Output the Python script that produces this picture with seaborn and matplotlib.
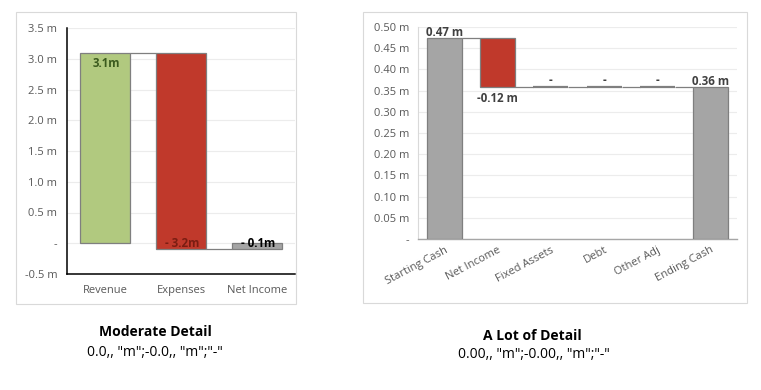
import matplotlib
matplotlib.use("Agg")
import matplotlib.pyplot as plt
import seaborn as sns
from matplotlib.patches import Rectangle

sns.set_theme(style="white")
plt.rcParams['font.family'] = ['Open Sans', 'DejaVu Sans']

# ---------------- data: Moderate Detail ----------------
mod_categories = ["Revenue", "Expenses", "Net Income"]
mod_values = [3.1, -3.2, -0.1]
mod_bottoms = [0.0, 3.1, 0.0]
mod_labels = ["3.1m", "- 3.2m", "- 0.1m"]
mod_colors = ["#b1c97f", "#c0392b", "#a5a5a5"]
mod_label_colors = ["#3b5a1e", "#7a1d12", "#000000"]
mod_yticks = [-0.5, 0.0, 0.5, 1.0, 1.5, 2.0, 2.5, 3.0, 3.5]
mod_yticklabels = ["-0.5 m", "-", "0.5 m", "1.0 m", "1.5 m", "2.0 m", "2.5 m", "3.0 m", "3.5 m"]

# ---------------- data: A Lot of Detail ----------------
lot_categories = ["Starting Cash", "Net Income", "Fixed Assets", "Debt", "Other Adj", "Ending Cash"]
lot_values = [0.474, -0.116, 0.0, 0.0, 0.0, 0.358]
lot_bottoms = [0.0, 0.474, 0.358, 0.358, 0.358, 0.0]
lot_labels = ["0.47 m", "-0.12 m", "-", "-", "-", "0.36 m"]
lot_colors = ["#a5a5a5", "#c0392b", "#a5a5a5", "#a5a5a5", "#a5a5a5", "#a5a5a5"]
lot_yticks = [0.0, 0.05, 0.10, 0.15, 0.20, 0.25, 0.30, 0.35, 0.40, 0.45, 0.50]
lot_yticklabels = ["-", "0.05 m", "0.10 m", "0.15 m", "0.20 m", "0.25 m", "0.30 m",
                   "0.35 m", "0.40 m", "0.45 m", "0.50 m"]

W, H = 761, 390
fig = plt.figure(figsize=(W / 100, H / 100), dpi=100)

EDGE = "#7f7f7f"
TICK = "#595959"
GRID = "#ececec"
BAR_W = 0.66


def fig_rect(x0, y0, x1, y1):
    return [x0 / W, 1 - y1 / H, (x1 - x0) / W, (y1 - y0) / H]


def waterfall(ax, cats, vals, bottoms, colors):
    sns.barplot(x=cats, y=vals, bottom=bottoms, ax=ax, width=BAR_W, color=colors[0],
                saturation=1, edgecolor=EDGE, linewidth=0.9, errorbar=None, zorder=3)
    for p, c in zip(ax.patches, colors):
        p.set_facecolor(c)
    # connectors
    for i in range(len(cats) - 1):
        level = bottoms[i] + vals[i]
        ax.hlines(level, i + BAR_W / 2, i + 1 - BAR_W / 2, color=EDGE, lw=0.9, zorder=2)


# ---------------- left chart ----------------
ax1 = fig.add_axes(fig_rect(67, 28, 295, 274))
waterfall(ax1, mod_categories, mod_values, mod_bottoms, mod_colors)
ax1.set_xlim(-0.5, 2.5)
ax1.set_ylim(-0.5, 3.5)
ax1.set_yticks(mod_yticks)
ax1.set_yticklabels(mod_yticklabels)
ax1.yaxis.grid(True, color=GRID, lw=0.8, zorder=0)
ax1.set_axisbelow(True)
ax1.tick_params(axis='y', length=0, pad=7, labelsize=8, labelcolor=TICK)
ax1.tick_params(axis='x', length=0, pad=8, labelsize=8, labelcolor=TICK)
for s in ["top", "right"]:
    ax1.spines[s].set_visible(False)
for s in ["left", "bottom"]:
    ax1.spines[s].set_color("black")
    ax1.spines[s].set_linewidth(1.1)

for i, (v, b, lab, lc) in enumerate(zip(mod_values, mod_bottoms, mod_labels, mod_label_colors)):
    end = b + v
    off = -7.5 if v > 0 else 4
    ax1.annotate(lab, (i, end), xytext=(1, off), textcoords="offset points",
                 ha="center", va="center", fontsize=8.3, fontweight="bold", color=lc, zorder=5)

# ---------------- right chart ----------------
ax2 = fig.add_axes(fig_rect(418, 27, 737, 239))
waterfall(ax2, lot_categories, lot_values, lot_bottoms, lot_colors)
for p, v in zip(ax2.patches, lot_values):
    if v == 0:
        p.set_linewidth(1.6)
ax2.set_xlim(-0.5, 5.5)
ax2.set_ylim(0, 0.5)
ax2.set_yticks(lot_yticks)
ax2.set_yticklabels(lot_yticklabels)
ax2.yaxis.grid(True, color=GRID, lw=0.8, zorder=0)
ax2.set_axisbelow(True)
ax2.tick_params(axis='y', length=0, pad=6.5, labelsize=8, labelcolor=TICK)
ax2.tick_params(axis='x', length=0, pad=4, labelsize=8, labelcolor=TICK)
for lbl in ax2.get_xticklabels():
    lbl.set_rotation(28)
    lbl.set_ha("right")
    lbl.set_va("top")
    lbl.set_rotation_mode("anchor")
for s in ["top", "right"]:
    ax2.spines[s].set_visible(False)
ax2.spines["left"].set_color("#d9d9d9")
ax2.spines["left"].set_linewidth(0.8)
ax2.spines["bottom"].set_color("#a6a6a6")
ax2.spines["bottom"].set_linewidth(1.0)

for i, (v, b, lab) in enumerate(zip(lot_values, lot_bottoms, lot_labels)):
    end = b + v
    off = -8 if v < 0 else (5 if v == 0 else 4)
    ax2.annotate(lab, (i, end), xytext=(0, off), textcoords="offset points",
                 ha="center", va="center", fontsize=8.3, fontweight="bold", color="#404040", zorder=5)

# ---------------- frames & titles ----------------
for (x0, y0, x1, y1) in [(16, 12, 296, 304), (363, 12, 747, 303)]:
    fig.patches.append(Rectangle((x0 / W, 1 - y1 / H), (x1 - x0) / W, (y1 - y0) / H,
                                 transform=fig.transFigure, fill=False,
                                 edgecolor="#d9d9d9", lw=0.8))

fig.text(155 / W, 1 - 332 / H, "Moderate Detail", ha="center", va="center",
         fontsize=10, fontweight="bold", color="black")
fig.text(155 / W, 1 - 352 / H, '0.0,, "m";-0.0,, "m";"-"', ha="center", va="center",
         fontsize=10, color="black")
fig.text(532 / W, 1 - 336 / H, "A Lot of Detail", ha="center", va="center",
         fontsize=10, fontweight="bold", color="black")
fig.text(534 / W, 1 - 355 / H, '0.00,, "m";-0.00,, "m";"-"', ha="center", va="center",
         fontsize=10, color="black")

fig.savefig("out.png", dpi=100, facecolor="white")
